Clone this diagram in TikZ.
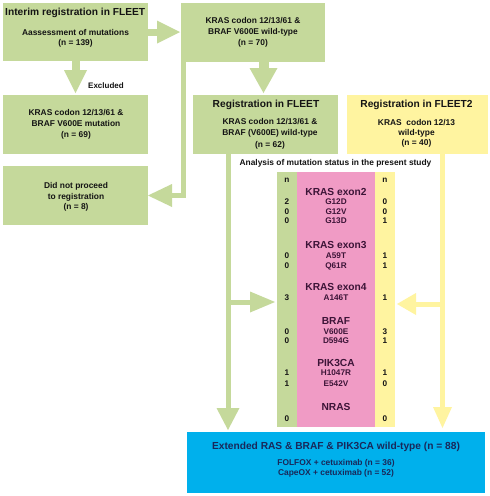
\documentclass[tikz,border=0pt]{standalone}
\usepackage{fontspec}
\setmainfont{Liberation Sans}
\usetikzlibrary{arrows.meta}
\definecolor{gr}{RGB}{197,217,155}
\definecolor{yl}{RGB}{255,244,160}
\definecolor{pk}{RGB}{240,155,197}
\definecolor{bl}{RGB}{0,176,236}
\definecolor{plum}{RGB}{60,20,55}
\definecolor{navy}{RGB}{25,40,90}
\definecolor{ink}{RGB}{20,20,20}
\begin{document}
\begin{tikzpicture}[x=1pt,y=-1pt,
  box/.style={inner sep=0pt,outer sep=0pt,draw=none,rectangle},
  hd/.style={font=\fontsize{10.2}{12}\selectfont\bfseries,text=ink,inner sep=0pt},
  bd/.style={font=\fontsize{8.4}{10.5}\selectfont\bfseries,text=ink,inner sep=0pt,align=center},
  bh/.style={font=\fontsize{10.2}{12}\selectfont\bfseries,text=navy,inner sep=0pt},
  bb/.style={font=\fontsize{8.4}{10}\selectfont\bfseries,text=navy,inner sep=0pt,align=center},
  th/.style={font=\fontsize{10.2}{12}\selectfont\bfseries,text=plum,inner sep=0pt},
  ti/.style={font=\fontsize{8.2}{9}\selectfont\bfseries,text=plum,inner sep=0pt},
  tn/.style={font=\fontsize{8.2}{9}\selectfont\bfseries,text=ink,inner sep=0pt},
  fat/.style={line width=#1, line join=miter},
  tip/.style n args={2}{-{Triangle[length=#1,width=#2,line width=0pt]}}
]
\useasboundingbox (0,0) rectangle (490,496);
\fill[white] (0,0) rectangle (490,496);

% boxes
\node[box,fill=gr,minimum width=145pt,minimum height=58pt] (A) at (75.5,32) {};
\node[box,fill=gr,minimum width=144pt,minimum height=59pt] (B) at (253,32.5) {};
\node[box,fill=gr,minimum width=145pt,minimum height=59pt] (C) at (75.5,124.5) {};
\node[box,fill=gr,minimum width=145pt,minimum height=59pt] (D) at (75.5,195.5) {};
\node[box,fill=gr,minimum width=145pt,minimum height=59pt] (E) at (265.5,124.5) {};
\node[box,fill=yl,minimum width=141pt,minimum height=59pt] (F) at (417.5,124.5) {};
\node[box,fill=bl,minimum width=298pt,minimum height=61pt] (G) at (336,462.5) {};

% table columns
\node[box,fill=gr,minimum width=20pt,minimum height=255pt] (TG) at (287,299.5) {};
\node[box,fill=pk,minimum width=78pt,minimum height=255pt] (TP) at (336,299.5) {};
\node[box,fill=yl,minimum width=20pt,minimum height=255pt] (TY) at (385,299.5) {};

% connector coordinates
\coordinate (eg) at (228,0);
\coordinate (gb) at (228,302);
\coordinate (yv) at (442.5,0);
\coordinate (yb) at (442.5,304);

% connectors
\draw[gr,fat=7pt,tip={23pt}{23pt}] (A.east) -- ([xshift=-1pt]A.east -| B.west);
\draw[gr,fat=8pt,tip={23pt}{23pt}] (A.south) -- ([yshift=2pt]C.north);
\draw[gr,fat=5pt,tip={24pt}{23pt}] ([xshift=2.5pt]B.south west) |- (D.east);
\draw[gr,fat=10pt,tip={25pt}{28pt}] ([xshift=-2pt]B.south -| E.north) -- ([xshift=-2pt,yshift=2pt]E.north);
\draw[gr,fat=5pt,tip={22pt}{23pt}] (eg |- E.south) -- ([yshift=2pt]eg |- G.north);
\draw[gr,fat=5pt,tip={25pt}{21pt}] (gb) -- ([xshift=-2pt]gb -| TG.west);
\draw[yl,fat=5pt,tip={21pt}{19pt}] (yv |- F.south) -- ([yshift=4pt]yv |- G.north);
\draw[yl,fat=5pt,tip={19pt}{22pt}] (yb) -- ([xshift=2pt]yb -| TY.east);

% box texts
\node[hd,anchor=west] (At) at (5,12.5) {Interim registration in FLEET};
\node[bd] (Ab) at (75.5,38.5) {Aassessment of mutations\\(n = 139)};
\node[bd,font=\fontsize{8.4}{11}\selectfont\bfseries] (Bb) at (253,32) {KRAS codon 12/13/61 \&\\BRAF V600E wild-type\\(n = 70)};
\node[bd,font=\fontsize{8.4}{11}\selectfont\bfseries] (Cb) at (76,124.5) {KRAS codon 12/13/61 \&\\BRAF V600E mutation\\(n = 69)};
\node[bd] (Db) at (76,197) {Did not proceed\\to registration\\(n = 8)};
\node[hd] (Et) at (266,105) {Registration in FLEET};
\node[bd,font=\fontsize{8.4}{11.5}\selectfont\bfseries] (Eb) at (270,133.5) {KRAS codon 12/13/61 \&\\BRAF (V600E) wild-type\\(n = 62)};
\node[hd] (Ft) at (416.5,105) {Registration in FLEET2};
\node[bd,font=\fontsize{8.4}{10}\selectfont\bfseries] (Fb) at (416.5,133.5) {KRAS~ codon 12/13\\wild-type\\(n = 40)};
\node[bd] (an) at (335.5,163) {Analysis of mutation status in the present study};
\node[bh] (Gt) at (336,447) {Extended RAS \& BRAF \& PIK3CA wild-type (n = 88)};
\node[bb] (Gb) at (336,468) {FOLFOX + cetuximab (n = 36)\\CapeOX + cetuximab (n = 52)};

% table texts
\node[tn] (nL) at (287,180.7) {n};
\node[tn] (nR) at (385,180.7) {n};
\node[th] (h1) at (336,191.7) {KRAS exon2};
\node[th] (h2) at (336,245) {KRAS exon3};
\node[th] (h3) at (336,287) {KRAS exon4};
\node[th] (h4) at (336,320.7) {BRAF};
\node[th] (h5) at (336,363.3) {PIK3CA};
\node[th] (h6) at (336,406.7) {NRAS};
\foreach \yy/\tt/\ll/\rr [count=\i] in {202/G12D/2/0, 212/G12V/0/0, 221/G13D/0/1,
   256/A59T/0/1, 266/Q61R/0/1, 298/A146T/3/1, 331.5/V600E/0/3, 341/D594G/0/1,
   373/H1047R/1/1, 384/E542V/1/0}{
  \node[ti] (it\i) at (336,\yy) {\tt};
  \node[tn] (nl\i) at (287,\yy) {\ll};
  \node[tn] (nr\i) at (385,\yy) {\rr};
}
\node[tn] (nl11) at (287,418.3) {0};
\node[tn] (nr11) at (385,418.3) {0};
\node[ti,text=ink,font=\fontsize{8}{9}\selectfont\bfseries,anchor=west] (ex) at (88,85.5) {Excluded};
\end{tikzpicture}
\end{document}
